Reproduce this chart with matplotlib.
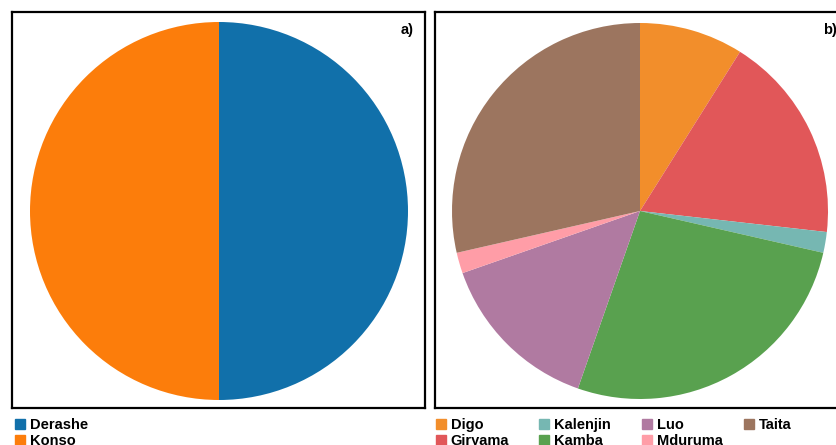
from matplotlib import pyplot as plt
from matplotlib.lines import Line2D

# panel a) data
groups_a = ["Derashe", "Konso"]
counts_a = [1, 1]
colors_a = ["#1170AA", "#FC7D0B"]

# panel b) data
groups_b = ["Digo", "Giryama", "Kalenjin", "Kamba", "Luo", "Mduruma", "Taita"]
counts_b = [5, 10, 1, 15, 8, 1, 16]
colors_b = ["#F28E2B", "#E15759", "#76B7B2", "#59A14F", "#B07AA1", "#FF9DA7", "#9C755F"]

plt.rcParams['font.family'] = ['Liberation Sans', 'DejaVu Sans']

W, H = 837, 445
fig = plt.figure(figsize=(W / 100, H / 100), dpi=100)

# axes boxes in pixels (panel width 413, height 396)
pw, ph = 413, 396
ax1 = fig.add_axes([12 / W, (H - 408) / H, pw / W, ph / H])
ax2 = fig.add_axes([435 / W, (H - 408) / H, pw / W, ph / H])


def draw_pie(ax, vals, cols, cx, cy, r, label):
    ax.pie(vals, colors=cols, startangle=90, counterclock=False,
           center=(cx, cy), radius=r, frame=True,
           wedgeprops=dict(linewidth=0))
    ax.set_xlim(0, pw)
    ax.set_ylim(0, ph)
    ax.set_xticks([])
    ax.set_yticks([])
    for s in ax.spines.values():
        s.set_linewidth(1.6)
        s.set_color("black")
    ax.text(0.973, 0.955, label, transform=ax.transAxes, ha="right", va="center",
            fontsize=10.5, fontweight="bold")


draw_pie(ax1, counts_a, colors_a, 207, 197, 189, "a)")
draw_pie(ax2, counts_b, colors_b, 205, 197, 188, "b)")


def legend_column(labels, cols, x):
    hs = [Line2D([], [], marker="s", linestyle="none", markersize=6.5,
                 markerfacecolor=c, markeredgecolor=c) for c in cols]
    fig.legend(hs, labels, loc="upper left",
               bbox_to_anchor=(x / W, 1 - 418 / H), frameon=False, ncol=1,
               prop=dict(size=10.5, weight="bold"), handlelength=0.7,
               handletextpad=0.3, labelspacing=0.12, borderpad=0,
               borderaxespad=0)


legend_column(groups_a, colors_a, 15)
col_x = [436, 539, 642, 744]
for i, x in enumerate(col_x):
    legend_column(groups_b[2 * i:2 * i + 2], colors_b[2 * i:2 * i + 2], x)

fig.savefig("out.png", dpi=100)
